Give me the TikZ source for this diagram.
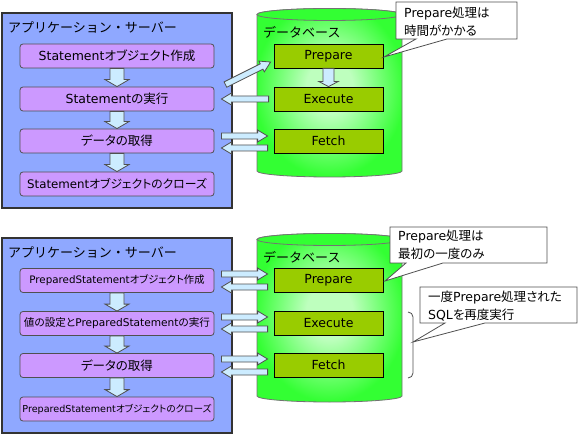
\documentclass[tikz,border=0pt]{standalone}
\usepackage{fontspec}
\setmainfont{DejaVu Sans}
\newfontfamily\jp[RawFeature=+palt]{Noto Sans CJK JP}
\newfontfamily\jpm{Noto Sans CJK JP}
\usetikzlibrary{calc}
\newcommand\J[1]{{\jp #1}}
\newcommand\JM[1]{{\jpm #1}}
\newcommand\fs[1]{\fontsize{#1}{#1}\selectfont}
\definecolor{appbg}{RGB}{143,168,255}
\definecolor{boxp}{RGB}{204,153,255}
\definecolor{dbg}{RGB}{153,204,0}
\definecolor{cyl}{RGB}{51,255,51}
\definecolor{glowc}{RGB}{190,255,190}
\definecolor{arrf}{RGB}{204,236,255}
\definecolor{edge}{RGB}{80,80,80}
\pgfdeclareradialshading{cylglow}{\pgfpoint{0bp}{2bp}}{color(0bp)=(glowc); color(8bp)=(glowc); color(26bp)=(cyl); color(60bp)=(cyl)}
% block arrow: #1 tail, #2 tip, #3 shaft half width, #4 head half width, #5 head length
\newcommand\barrow[5]{%
  \draw[blockarr] let \p1=(#1), \p2=(#2), \p3=($(\p2)!#5pt!(\p1)$) in
    ($(\p1)!#3pt!90:(\p2)$) -- ($(\p3)!#3pt!90:(\p2)$) -- ($(\p3)!#4pt!90:(\p2)$) -- (\p2)
    -- ($(\p3)!#4pt!-90:(\p2)$) -- ($(\p3)!#3pt!-90:(\p2)$) -- ($(\p1)!#3pt!-90:(\p2)$) -- cycle;}
\tikzset{
  appframe/.style={fill=appbg, draw=black!80, line width=1.6pt},
  abox/.style={rounded corners=3pt, fill=boxp, draw=edge, line width=0.8pt, minimum width=194pt, minimum height=24pt, inner sep=0pt, font=\fs{12.5}},
  dbox/.style={fill=dbg, draw=black, line width=0.8pt, minimum width=109pt, minimum height=24pt, inner sep=0pt, font=\fs{12.5}},
  blockarr/.style={fill=arrf, draw=edge, line width=0.8pt, line join=miter},
  cylbody/.style={shading=cylglow, draw=edge!80, line width=0.8pt},
  cyltop/.style={fill=cyl, draw=edge!80, line width=0.8pt},
  callout/.style={fill=white, draw=edge, line width=0.8pt, line join=miter},
  ctext/.style={anchor=west, align=left, inner sep=0pt, font=\fs{12.5}},
  title/.style={anchor=west, inner sep=0pt, font=\fs{13}},
  bracestyle/.style={draw=edge, line width=0.8pt}
}
\begin{document}
\begin{tikzpicture}[x=1pt,y=-1pt]
\useasboundingbox (0,0) rectangle (580,435);
\fill[white] (0,0) rectangle (580,435);

% ================= TOP =================
\draw[appframe] (2,13) rectangle (232,208);
\node[title] (t1) at (8,27) {\JM{アプリケーション・サーバー}};

\shade[cylbody] (257,14.5) -- (257,171) arc[start angle=180, end angle=360, x radius=72.5pt, y radius=6pt] -- (402,14.5) arc[start angle=0, end angle=180, x radius=72.5pt, y radius=6pt] -- cycle;
\draw[cyltop] (329.5,14.5) ellipse [x radius=72.5pt, y radius=6pt];
\node[title] (t2) at (263,32) {\JM{データベース}};

\node[abox] (a1) at (117,56) {Statement\J{オブジェクト作成}};
\node[abox] (a2) at (117,99) {Statement\J{の実行}};
\node[abox] (a3) at (117,141) {\J{データの取得}};
\node[abox, font=\fs{11.8}] (a4) at (117,184) {Statement\J{オブジェクトのクローズ}};

\node[dbox] (d1) at (328.5,56) {Prepare};
\node[dbox] (d2) at (328.5,99) {Execute};
\node[dbox] (d3) at (328.5,141) {Fetch};

\barrow{a1.south}{a2.north}{7}{12}{7}
\barrow{a2.south}{a3.north}{7}{12}{7}
\barrow{a3.south}{a4.north}{7}{12}{7}
\barrow{d1.south}{d2.north}{5.5}{9.5}{5}

\barrow{$(a2.north east)+(11,-2)$}{$(d1.west)+(-3,6)$}{3}{6}{10}
\barrow{$(d2.west)+(-5,0)$}{$(a2.east)+(7,0)$}{3}{6}{10}
\barrow{$(a3.east)+(7,-5)$}{$(d3.west)+(-6,-5)$}{3}{6}{10}
\barrow{$(d3.west)+(-6,7)$}{$(a3.east)+(7,7)$}{3}{6}{10}

\draw[callout] (396,2) -- (517,2) -- (517,39) -- (447,39) -- (384,57) -- (416,39) -- (396,39) -- cycle;
\node[ctext] (c1) at (404,21.5) {Prepare\J{処理は}\\[4pt]\J{時間がかかる}};

% ================= BOTTOM =================
\draw[appframe] (2,238) rectangle (232,433);
\node[title] (t3) at (8,252) {\JM{アプリケーション・サーバー}};

\shade[cylbody] (257,239.5) -- (257,396) arc[start angle=180, end angle=360, x radius=72.5pt, y radius=6pt] -- (402,239.5) arc[start angle=0, end angle=180, x radius=72.5pt, y radius=6pt] -- cycle;
\draw[cyltop] (329.5,239.5) ellipse [x radius=72.5pt, y radius=6pt];
\node[title] (t4) at (263,257) {\JM{データベース}};

\node[abox, font=\fs{10.3}] (b1) at (117,280.5) {PreparedStatement\J{オブジェクト作成}};
\node[abox, font=\fs{10.6}] (b2) at (117,323.5) {\J{値の設定と}PreparedStatement\J{の実行}};
\node[abox] (b3) at (117,365.5) {\J{データの取得}};
\node[abox, font=\fs{9.6}] (b4) at (117,409) {PreparedStatement\J{オブジェクトのクローズ}};

\node[dbox] (e1) at (328.5,280.5) {Prepare};
\node[dbox] (e2) at (328.5,323) {Execute};
\node[dbox] (e3) at (328.5,365) {Fetch};

\barrow{b1.south}{b2.north}{7}{12}{7}
\barrow{b2.south}{b3.north}{7}{12}{7}
\barrow{b3.south}{b4.north}{7}{12}{7}

\barrow{$(b1.east)+(7,-6.5)$}{$(e1.west)+(-6,-6.5)$}{3}{6}{10}
\barrow{$(e1.west)+(-6,6.5)$}{$(b1.east)+(7,6.5)$}{3}{6}{10}
\barrow{$(b2.east)+(7,-6.5)$}{$(e2.west)+(-6,-6)$}{3}{6}{10}
\barrow{$(e2.west)+(-6,6)$}{$(b2.east)+(7,5.5)$}{3}{6}{10}
\barrow{$(b3.east)+(7,-6.5)$}{$(e3.west)+(-6,-6)$}{3}{6}{10}
\barrow{$(e3.west)+(-6,7)$}{$(b3.east)+(7,6.5)$}{3}{6}{10}

\draw[bracestyle] (408,312) to[out=0,in=90] (413,317) -- (413,373) to[out=-90,in=0] (408,378);
\coordinate (bt) at (413,342);

\draw[callout] (390,227) -- (547,227) -- (547,263) -- (443,263) -- (385,281) -- (406,263) -- (390,263) -- cycle;
\node[ctext] (c2) at (398,245) {Prepare\J{処理は}\\[4pt]\J{最初の一度のみ}};

\draw[callout] (420,287) -- (577,287) -- (577,323) -- (485,323) -- (bt) -- (445,323) -- (420,323) -- cycle;
\node[ctext] (c3) at (428,306) {\J{一度}Prepare\J{処理された}\\[4pt]SQL\J{を再度実行}};
\end{tikzpicture}
\end{document}
